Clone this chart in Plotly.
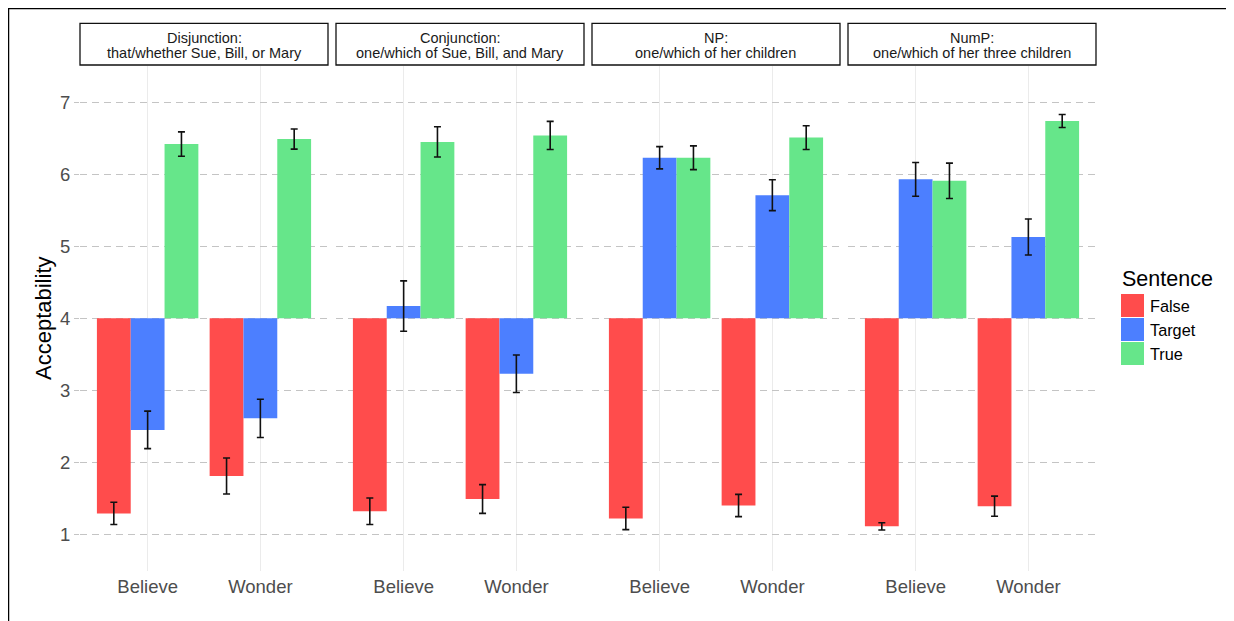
import plotly.graph_objects as go

# ---------------- data ----------------
facet_line1 = ["Disjunction:", "Conjunction:", "NP:", "NumP:"]
facet_line2 = ["that/whether Sue, Bill, or Mary",
               "one/which of Sue, Bill, and Mary",
               "one/which of her children",
               "one/which of her three children"]
verbs = ["Believe", "Wonder"]
sentences = ["False", "Target", "True"]

# mean acceptability per facet, [Believe, Wonder]
false_mean = [[1.29, 1.81], [1.32, 1.49], [1.22, 1.40], [1.11, 1.39]]
target_mean = [[2.45, 2.61], [4.17, 3.23], [6.23, 5.71], [5.93, 5.13]]
true_mean = [[6.42, 6.49], [6.45, 6.54], [6.23, 6.51], [5.91, 6.74]]

# error bar half-widths per facet, [Believe, Wonder]
false_err = [[0.155, 0.25], [0.185, 0.20], [0.155, 0.155], [0.05, 0.14]]
target_err = [[0.26, 0.265], [0.35, 0.26], [0.155, 0.215], [0.235, 0.25]]
true_err = [[0.17, 0.14], [0.21, 0.195], [0.165, 0.165], [0.245, 0.09]]

baseline = 4
y_ticks = [1, 2, 3, 4, 5, 6, 7]

# ---------------- styling ----------------
W, H = 1234, 621
OX, OY = 8, 8  # page offset of the figure (default body margin)
colors = {"False": "#FF4C4C", "Target": "#4C7FFF", "True": "#66E68A"}
FONT = "Liberation Sans, Arial, Helvetica, sans-serif"
TICK_COLOR = "#4D4D4D"
GRID_COLOR = "#C4C4C4"


def fx(p):
    return (p - OX) / W


def fy(p):
    return 1 - (p - OY) / H


means = {"False": false_mean, "Target": target_mean, "True": true_mean}
errs = {"False": false_err, "Target": target_err, "True": true_err}

fig = go.Figure()

panel_left = [80 + 256 * i for i in range(4)]
panel_w = 248
panel_top, panel_bottom = 65.6, 571
strip_top = 23.3

for i in range(4):
    ax = "" if i == 0 else str(i + 1)
    for s in sentences:
        fig.add_trace(go.Bar(
            x=verbs,
            y=[m - baseline for m in means[s][i]],
            base=baseline,
            name=s,
            marker=dict(color=colors[s], line=dict(width=0)),
            error_y=dict(type="data", array=errs[s][i], visible=True,
                         color="#111111", thickness=1.6, width=3.5),
            xaxis="x" + ax, yaxis="y" + ax,
            showlegend=False,
        ))

layout = dict(
    width=W, height=H,
    margin=dict(l=0, r=0, t=0, b=0),
    paper_bgcolor="white", plot_bgcolor="white",
    barmode="group", bargap=0.1, bargroupgap=0,
    font=dict(family=FONT),
    showlegend=False,
)

for i in range(4):
    ax = "" if i == 0 else str(i + 1)
    layout["xaxis" + ax] = dict(
        domain=[fx(panel_left[i]), fx(panel_left[i] + panel_w)],
        anchor="y" + ax,
        type="category",
        range=[-0.6, 1.6],
        showgrid=True, gridcolor="#EBEBEB", gridwidth=1.2,
        showline=False, zeroline=False, ticks="",
        tickfont=dict(size=18.5, color=TICK_COLOR, family=FONT),
        ticklabelstandoff=2,
        automargin=False,
    )
    layout["yaxis" + ax] = dict(
        domain=[fy(panel_bottom), fy(panel_top)],
        anchor="x" + ax,
        range=[0.49, 7.51],
        tickvals=y_ticks,
        showgrid=True, gridcolor=GRID_COLOR, gridwidth=1.3,
        griddash="7px,5px",
        showline=False, zeroline=False,
        ticks="outside" if i == 0 else "",
        ticklen=5, tickcolor=GRID_COLOR, tickwidth=1.3,
        showticklabels=(i == 0),
        tickfont=dict(size=18.5, color=TICK_COLOR, family=FONT),
        automargin=False,
    )

fig.update_layout(**layout)

shapes = []
annotations = []

# outer border
shapes.append(dict(type="rect", xref="paper", yref="paper",
                   x0=0.6 / W, x1=1.02, y0=-0.02, y1=1 - 0.6 / H,
                   line=dict(color="black", width=1.3), fillcolor="rgba(0,0,0,0)",
                   layer="above"))

# facet strips
for i in range(4):
    x0 = panel_left[i]
    x1 = x0 + panel_w
    shapes.append(dict(type="rect", xref="paper", yref="paper",
                       x0=fx(x0), x1=fx(x1), y0=fy(panel_top - 0.6), y1=fy(strip_top),
                       line=dict(color="#111111", width=1.3), fillcolor="white"))
    xc = fx((x0 + x1) / 2)
    annotations.append(dict(text=facet_line1[i], xref="paper", yref="paper",
                            x=xc, y=fy(38.5), xanchor="center", yanchor="middle",
                            showarrow=False,
                            font=dict(size=14.5, color="#1A1A1A", family=FONT)))
    annotations.append(dict(text=facet_line2[i], xref="paper", yref="paper",
                            x=xc, y=fy(53), xanchor="center", yanchor="middle",
                            showarrow=False,
                            font=dict(size=14.5, color="#1A1A1A", family=FONT)))

# y axis title
annotations.append(dict(text="Acceptability", xref="paper", yref="paper",
                        x=fx(43), y=fy(318), textangle=-90,
                        xanchor="center", yanchor="middle", showarrow=False,
                        font=dict(size=22, color="black", family=FONT)))

# legend
annotations.append(dict(text="Sentence", xref="paper", yref="paper",
                        x=fx(1120), y=fy(279.5), xanchor="left", yanchor="middle",
                        showarrow=False,
                        font=dict(size=21.5, color="black", family=FONT)))
key_top = 294
for k, s in enumerate(sentences):
    t = key_top + k * 24
    shapes.append(dict(type="rect", xref="paper", yref="paper",
                       x0=fx(1121), x1=fx(1144), y0=fy(t + 23), y1=fy(t),
                       line=dict(width=0), fillcolor=colors[s]))
    annotations.append(dict(text=s, xref="paper", yref="paper",
                            x=fx(1148), y=fy(t + 11.5), xanchor="left", yanchor="middle",
                            showarrow=False,
                            font=dict(size=16.3, color="black", family=FONT)))

fig.update_layout(shapes=shapes, annotations=annotations)

fig.write_html("out.html")
